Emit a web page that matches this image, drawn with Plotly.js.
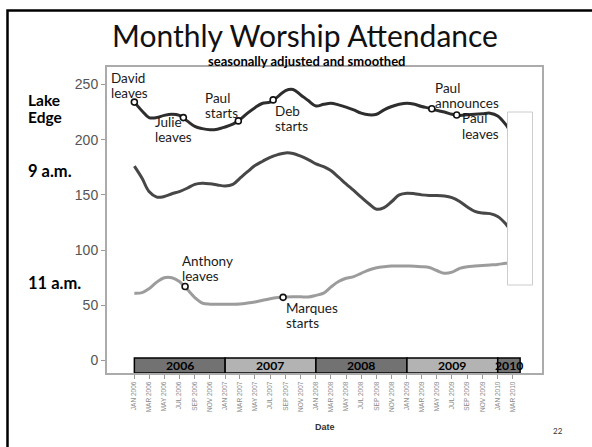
<!DOCTYPE html>
<html>
<head>
<meta charset="utf-8">
<script src="https://cdn.plot.ly/plotly-3.0.1.min.js"></script>
<style>
html,body{margin:0;padding:0;background:#fff;}
#chart{width:592px;height:447px;}
</style>
</head>
<body>
<div id="chart"></div>
<script>
// ---------- DATA ----------
const months = ['2006-01-01','2006-02-01','2006-03-01','2006-04-01','2006-05-01','2006-06-01','2006-07-01','2006-08-01','2006-09-01','2006-10-01','2006-11-01','2006-12-01',
  '2007-01-01','2007-02-01','2007-03-01','2007-04-01','2007-05-01','2007-06-01','2007-07-01','2007-08-01','2007-09-01','2007-10-01','2007-11-01','2007-12-01',
  '2008-01-01','2008-02-01','2008-03-01','2008-04-01','2008-05-01','2008-06-01','2008-07-01','2008-08-01','2008-09-01','2008-10-01','2008-11-01','2008-12-01',
  '2009-01-01','2009-02-01','2009-03-01','2009-04-01','2009-05-01','2009-06-01','2009-07-01','2009-08-01','2009-09-01','2009-10-01','2009-11-01','2009-12-01',
  '2010-01-01','2010-02-01','2010-03-01'];

const lakeEdge = [234,226,220,220,222,223,222,217,212,210,209,209.5,
  211.5,214,218,224,229,233,234,239,244.5,245.5,240.5,235.4,
  230.5,232,233,231.5,229.5,227,224,222.5,223,227,230,232,
  233,232,230,228.5,226.5,225,223,222,222.5,223,223.5,224,
  221.5,214,204];

const nineAm = [176,165,153,148,148.5,151,153,156,159.5,160.5,160,159,
  158,159.5,165,171,176.5,180.5,184,186.5,188,187.5,185,182,
  178,175.5,172,166,160,154,148,142,137,138.5,144,150,
  151.5,151,150,149.5,149.5,149,147.5,144,139,135,133.5,133,
  130.5,124,115];

const elevenAm = [61,61.5,65,71,75,75,71.5,64.5,57,52,51,51,
  51,51,51.2,52,53,54.5,56,57,57.5,57.7,57.7,57.5,
  59,61,66.5,71.5,74.5,76,79,82,84,85,85.6,85.6,
  85.5,85.4,85,84.2,81.5,79,80,83.5,85,85.5,86,86.5,
  87,88,88.5];

const eventLabels = ['David<br>leaves','Julie<br>leaves','Paul<br>starts','Deb<br>starts','Paul<br>announces','Paul<br>leaves','Anthony<br>leaves','Marques<br>starts'];
const eventDates  = ['2006-01-01','2006-07-17','2007-02-23','2007-07-13','2009-04-11','2009-07-20','2006-07-24','2007-08-22'];
const eventValues = [234,220,217,236,228,222.4,67,57.2];

const yearLabels = ['2006','2007','2008','2009','2010'];
const yearStarts = ['2006-01-01','2007-01-01','2008-01-01','2009-01-01','2010-01-01'];
const yearEnds   = ['2007-01-01','2008-01-01','2009-01-01','2010-01-01','2010-04-01'];

const tickVals = ['2006-01-01','2006-03-01','2006-05-01','2006-07-01','2006-09-01','2006-11-01',
  '2007-01-01','2007-03-01','2007-05-01','2007-07-01','2007-09-01','2007-11-01',
  '2008-01-01','2008-03-01','2008-05-01','2008-07-01','2008-09-01','2008-11-01',
  '2009-01-01','2009-03-01','2009-05-01','2009-07-01','2009-09-01','2009-11-01',
  '2010-01-01','2010-03-01'];
const tickText = ['JAN 2006','MAR 2006','MAY 2006','JUL 2006','SEP 2006','NOV 2006',
  'JAN 2007','MAR 2007','MAY 2007','JUL 2007','SEP 2007','NOV 2007',
  'JAN 2008','MAR 2008','MAY 2008','JUL 2008','SEP 2008','NOV 2008',
  'JAN 2009','MAR 2009','MAY 2009','JUL 2009','SEP 2009','NOV 2009',
  'JAN 2010','MAR 2010'];

const seriesLabels = ['Lake','Edge','9 a.m.','11 a.m.'];

// ---------- LAYOUT HELPERS ----------
const L = 107, R = 542, T = 67, B = 373;
const xp = px => (px - L) / (R - L);
const yp = py => (B - py) / (B - T);
const FONT = 'Lato, "Open Sans", sans-serif';

// label placement (pixels): left x and line centres
const eventLabelPos = [
  {x:110, y:[78,93]},
  {x:154, y:[122,137]},
  {x:204, y:[97.5,112.5]},
  {x:274, y:[110.5,125.5]},
  {x:434, y:[87.5,102.5]},
  {x:461, y:[118.5,133.5]},
  {x:181, y:[260.5,275.5]},
  {x:285, y:[308,323]}
];
const seriesLabelPos = [{x:27,y:100},{x:27,y:116.5},{x:27,y:171},{x:27,y:283}];

const lineStyle = [
  {color:'#2e2e2e', width:3},
  {color:'#474747', width:3},
  {color:'#9c9c9c', width:3}
];

const traces = [
  {x: months, y: lakeEdge, type:'scatter', mode:'lines', line:Object.assign({shape:'spline', smoothing:1}, lineStyle[0]), name:'Lake Edge', hoverinfo:'skip'},
  {x: months, y: nineAm, type:'scatter', mode:'lines', line:Object.assign({shape:'spline', smoothing:1}, lineStyle[1]), name:'9 a.m.', hoverinfo:'skip'},
  {x: months, y: elevenAm, type:'scatter', mode:'lines', line:Object.assign({shape:'spline', smoothing:1}, lineStyle[2]), name:'11 a.m.', hoverinfo:'skip'},
  {x: eventDates, y: eventValues, type:'scatter', mode:'markers', name:'events', hoverinfo:'skip',
   marker:{symbol:'circle', size:6, color:'#ffffff', line:{color:'#111', width:1.6}}}
];

const bandColors = ['#727272','#b3b3b3','#727272','#b3b3b3','#727272'];
const shapes = [];
yearLabels.forEach((yl,i)=>{
  shapes.push({type:'rect', xref:'x', yref:'y', x0:yearStarts[i], x1:yearEnds[i], y0:-11.3, y1:2.2,
    fillcolor:bandColors[i], line:{color:'#000', width:1.5}, layer:'above'});
});
// white box on the right
shapes.push({type:'rect', xref:'paper', yref:'paper', x0:xp(507.5), x1:xp(532.5), y0:yp(285), y1:yp(112),
  fillcolor:'#ffffff', line:{color:'#cccccc', width:1}, layer:'above'});
// slide border (left and top)
shapes.push({type:'rect', xref:'paper', yref:'paper', x0:xp(7.5), x1:xp(700), y0:yp(700), y1:yp(10.5),
  fillcolor:'rgba(0,0,0,0)', line:{color:'#000', width:2.5}, layer:'above'});

const annotations = [];
// year labels on bands
yearLabels.forEach((yl,i)=>{
  const mid = new Date((new Date(yearStarts[i]).getTime() + new Date(yearEnds[i]).getTime())/2).toISOString().slice(0,10);
  annotations.push({xref:'x', yref:'y', x:mid, y:-4.6, text:'<b>'+yl+'</b>', showarrow:false,
    font:{family:FONT, size:12.2, color:'#000'}, xanchor:'center', yanchor:'middle', borderpad:0});
});
// event labels
eventLabels.forEach((lab,i)=>{
  lab.split('<br>').forEach((ln,j)=>{
    annotations.push({xref:'paper', yref:'paper', x:xp(eventLabelPos[i].x), y:yp(eventLabelPos[i].y[j]),
      text:ln, showarrow:false, xanchor:'left', yanchor:'middle', borderpad:0,
      font:{family:FONT, size:13.5, color:'#1a1a1a'}});
  });
});
// series labels on the left
seriesLabels.forEach((lab,i)=>{
  annotations.push({xref:'paper', yref:'paper', x:xp(seriesLabelPos[i].x), y:yp(seriesLabelPos[i].y),
    text:'<b>'+lab+'</b>', showarrow:false, xanchor:'left', yanchor:'middle', borderpad:0,
    font:{family:FONT, size:i<2?15.5:16.5, color:'#000'}});
});
// subtitle
annotations.push({xref:'paper', yref:'paper', x:xp(306), y:yp(61), text:'<b>seasonally adjusted and smoothed</b>',
  showarrow:false, xanchor:'center', yanchor:'middle', font:{family:FONT, size:13, color:'#000'}});
// x axis title
annotations.push({xref:'paper', yref:'paper', x:xp(325), y:yp(427), text:'<b>Date</b>',
  showarrow:false, xanchor:'center', yanchor:'middle', font:{family:'"Liberation Sans", Arial, sans-serif', size:9, color:'#333'}});
// page number
annotations.push({xref:'paper', yref:'paper', x:xp(558), y:yp(431), text:'22',
  showarrow:false, xanchor:'center', yanchor:'middle', font:{family:FONT, size:8, color:'#333'}});

const layout = {
  width:592, height:447,
  margin:{l:L, r:592-R, t:T, b:447-B, pad:0},
  paper_bgcolor:'#fff', plot_bgcolor:'#fff',
  showlegend:false,
  title:{text:'Monthly Worship Attendance', font:{family:FONT, size:30, color:'#111'},
    x:xp(305), xref:'paper', xanchor:'center', y:1-36/447, yref:'container', yanchor:'middle'},
  xaxis:{type:'date', range:['2005-09-13','2010-06-28'], tickmode:'array', tickvals:tickVals, ticktext:tickText,
    tickangle:-90, tickfont:{family:'"Liberation Sans", Arial, sans-serif', size:6.5, color:'#8a8a8a'},
    ticks:'outside', ticklen:4, tickwidth:1, tickcolor:'#999',
    showline:true, linecolor:'#ababab', linewidth:2, mirror:true,
    showgrid:false, zeroline:false, fixedrange:true, automargin:false},
  yaxis:{range:[-11.3,265.8], tickmode:'linear', tick0:0, dtick:50,
    tickfont:{family:'"Liberation Sans", Arial, sans-serif', size:14, color:'#555'},
    ticks:'outside', ticklen:4, tickwidth:1, tickcolor:'#999',
    showline:true, linecolor:'#ababab', linewidth:2, mirror:true,
    showgrid:false, zeroline:false, fixedrange:true, automargin:false},
  shapes:shapes,
  annotations:annotations
};

Plotly.newPlot('chart', traces, layout, {staticPlot:true, displayModeBar:false});
</script>
</body>
</html>
